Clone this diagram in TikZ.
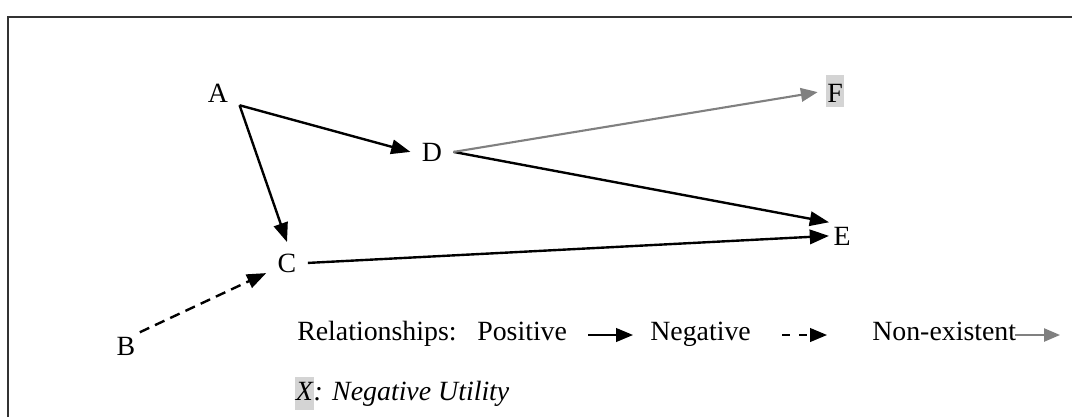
\documentclass[tikz,border=0pt]{standalone}
\usepackage{fontspec}
\setmainfont{Liberation Serif}
\usetikzlibrary{arrows.meta}
\definecolor{hlgray}{RGB}{212,212,212}
\definecolor{linkgray}{RGB}{128,128,128}

\begin{document}
\begin{tikzpicture}[x=0.025cm,y=-0.025cm,
  every node/.style={font=\fontsize{19.8}{23}\selectfont},
  lbl/.style={inner sep=3pt},
  wide/.style={inner sep=8pt},
  key/.style={anchor=base west,inner sep=0pt},
  edgeline/.style={line width=1.8pt,black!80},
  posrel/.style={line width=1.7pt,-{Triangle[length=4.8mm,width=3.6mm]}},
  negrel/.style={posrel,dash pattern=on 0.26cm off 0.16cm},
  nilrel/.style={line width=1.5pt,linkgray,-{Triangle[length=4.2mm,width=3.4mm]}},
  keypos/.style={line width=1.3pt,-{Triangle[length=4.2mm,width=3.4mm]}},
  keyneg/.style={keypos,dash pattern=on 0.2cm off 0.225cm},
  keynil/.style={line width=1.3pt,linkgray,-{Triangle[length=4mm,width=3.3mm]}}]
  \useasboundingbox (0,0) rectangle (1072,417);
  \draw[edgeline] (8,417) -- (8,17) -- (1072,17);

  % letters
  \node[lbl,wide,anchor=base] (A) at (218,102) {A};
  \node[lbl,anchor=base] (B) at (126,355) {B};
  \node[lbl,wide,anchor=base] (C) at (287,272) {C};
  \node[lbl,wide,anchor=base] (D) at (432,161) {D};
  \node[lbl,anchor=base] (E) at (842,245) {E};
  \node[anchor=base,fill=hlgray,inner xsep=0.7pt,inner ysep=0pt,
        text height=19.5pt,text depth=3.5pt] (F) at (835,102) {F};

  % relationships
  \draw[posrel] (A.-30) -- (D.west);
  \draw[posrel] (A.-30) -- (C.north);
  \draw[posrel] (D.east) -- (E.north west);
  \draw[posrel] (C.east) -- (E.west);
  \draw[negrel] (B.north east) -- (C.206);
  \draw[nilrel,shorten >=6pt] (D.east) -- (F.west);

  % legend
  \node[key] (rel) at (297,340) {Relationships:};
  \node[key] (positive) at (477,340) {Positive};
  \node[key] (negative) at (650,340) {Negative};
  \node[key] (nonex) at (872,340) {Non-existent};
  \coordinate (p1) at (588,335); \coordinate (p2) at (633,335);
  \coordinate (n1) at (782,335); \coordinate (n2) at (827,335);
  \coordinate (z1) at (1015,335); \coordinate (z2) at (1060,335);
  \draw[keypos] (p1) -- (p2);
  \draw[keyneg] (n1) -- (n2);
  \draw[keynil] (z1) -- (z2);

  \node[key] (util) at (295,400)
    {\setlength{\fboxsep}{0.5pt}\itshape\colorbox{hlgray}{\strut X}: Negative Utility};
\end{tikzpicture}
\end{document}
